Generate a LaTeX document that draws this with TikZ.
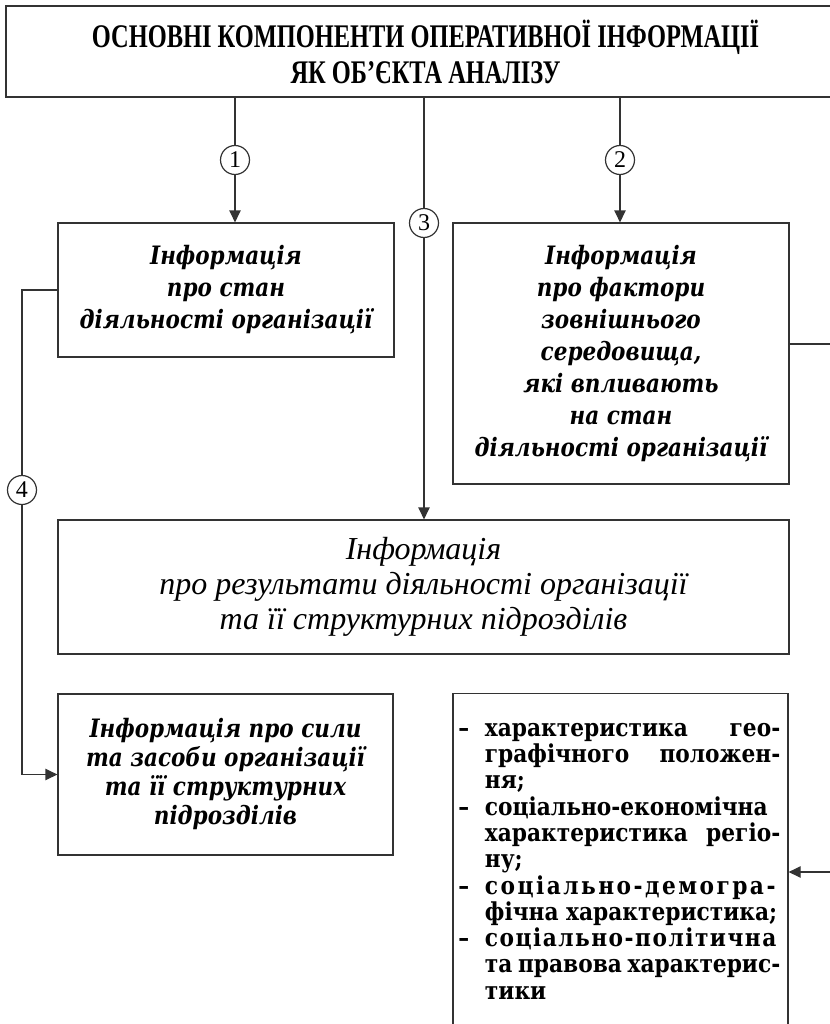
\documentclass[tikz,border=0pt]{standalone}
\usepackage{fontspec}
\setmainfont{Liberation Serif}
\newfontfamily\titlefont[FakeStretch=0.74]{Liberation Serif}
\newfontfamily\boxfont[FakeStretch=0.85]{DejaVu Serif}
\newfontfamily\listfont[FakeStretch=0.88]{DejaVu Serif}
\usepackage{tikz}
\usetikzlibrary{arrows.meta}
\usetikzlibrary{calc}

\newcommand{\lstitem}[1]{\noindent\hangindent=20pt\hangafter=1\makebox[20pt][l]{–}#1\par}

\begin{document}
\begin{tikzpicture}[x=0.75pt,y=0.75pt,yscale=-1,xscale=1,
  frame/.style={draw=black!80,line width=0.9pt,rectangle,inner sep=0pt,align=center},
  numcirc/.style={draw=black!80,line width=0.9pt,circle,fill=white,minimum size=21.75pt,inner sep=0pt,font=\fontsize{18}{18}\selectfont},
  link/.style={draw=black!80,line width=0.9pt},
  arr/.style={link,-{Triangle[length=9pt,width=8.5pt]}}]
\useasboundingbox (0,0) rectangle (830,1024);

% Text Node [title]
\node[align=center,inner sep=0pt,font=\titlefont\bfseries\fontsize{24.75}{27}\selectfont] (top) at (425.5,52) {ОСНОВНІ КОМПОНЕНТИ ОПЕРАТИВНОЇ ІНФОРМАЦІЇ\\ЯК ОБ’ЄКТА АНАЛІЗУ};
%Shape: Rectangle [title frame, runs off the right edge]
\coordinate (topbase) at (6,97);
\draw[link] (880,6) -- (6,6) -- (topbase) -- (880,97);

%Shape: Rectangle [boxes]
\node[frame,font=\boxfont\bfseries\itshape\fontsize{19}{24}\selectfont,minimum width=252pt,minimum height=100.5pt] (box1) at (226,290) {Інформація\\про стан\\діяльності організації};
\node[frame,font=\boxfont\bfseries\itshape\fontsize{19}{24}\selectfont,minimum width=252pt,minimum height=195.75pt] (box2) at (621,353.5) {Інформація\\про фактори\\зовнішнього\\середовища,\\які впливають\\на стан\\діяльності організації};
\node[frame,minimum width=548.25pt,minimum height=100.5pt,font=\itshape\fontsize{24}{26.5}\selectfont] (box3) at (423.5,587) {Інформація\\про результати діяльності організації\\та її структурних підрозділів};
\node[frame,font=\boxfont\bfseries\itshape\fontsize{19}{21.75}\selectfont,minimum width=251.25pt,minimum height=120.75pt] (box4) at (225.5,774.5) {Інформація про сили\\та засоби організації\\та її структурних\\підрозділів};
\node[frame,anchor=north,minimum width=251.25pt,minimum height=262.5pt] (box5) at (620.5,693) {};

% Text Node
\node[anchor=north west,inner sep=0pt,text width=241.5pt,align=justify,font=\listfont\bfseries\fontsize{18.5}{19.7}\selectfont] (list) at (458,723) {\hyphenpenalty=10000\exhyphenpenalty=10000
\lstitem{характеристика гео-\linebreak графічного положен-\linebreak ня;}
\lstitem{соціально-економічна\linebreak характеристика регіо-\linebreak ну;}
\lstitem{{\addfontfeature{LetterSpace=10}соціально-демогра-}\linebreak фічна характеристика;}
\lstitem{{\addfontfeature{LetterSpace=6}соціально-політична}\linebreak {\spaceskip=0.12em plus 0.3em minus 0.05em та правова характерис-}\linebreak тики}};

%Shape: Circle [numbers]
\node[numcirc] (c1) at (235,160) {1};
\node[numcirc] (c2) at (620,160) {2};
\node[numcirc] (c3) at (424,223) {3};
\node[numcirc] (c4) at (22,490) {4};

%Straight Lines
\draw[link] (c1 |- topbase) -- (c1);
\draw[arr] (c1) -- (c1 |- box1.north);
\draw[link] (c2 |- topbase) -- (c2);
\draw[arr] (c2) -- (c2 |- box2.north);
\draw[link] (c3 |- topbase) -- (c3);
\draw[arr] (c3) -- (c3 |- box3.north);
\draw[link] (box1.west) -| (c4);
\draw[arr] (c4) |- (box4.west);

\coordinate (rtop) at (846,344);
\coordinate (rbot) at (846,872);
\draw[arr] (box2.east |- rtop) -- (rtop) -- (rbot) -- (box5.east |- rbot);

\end{tikzpicture}
\end{document}
